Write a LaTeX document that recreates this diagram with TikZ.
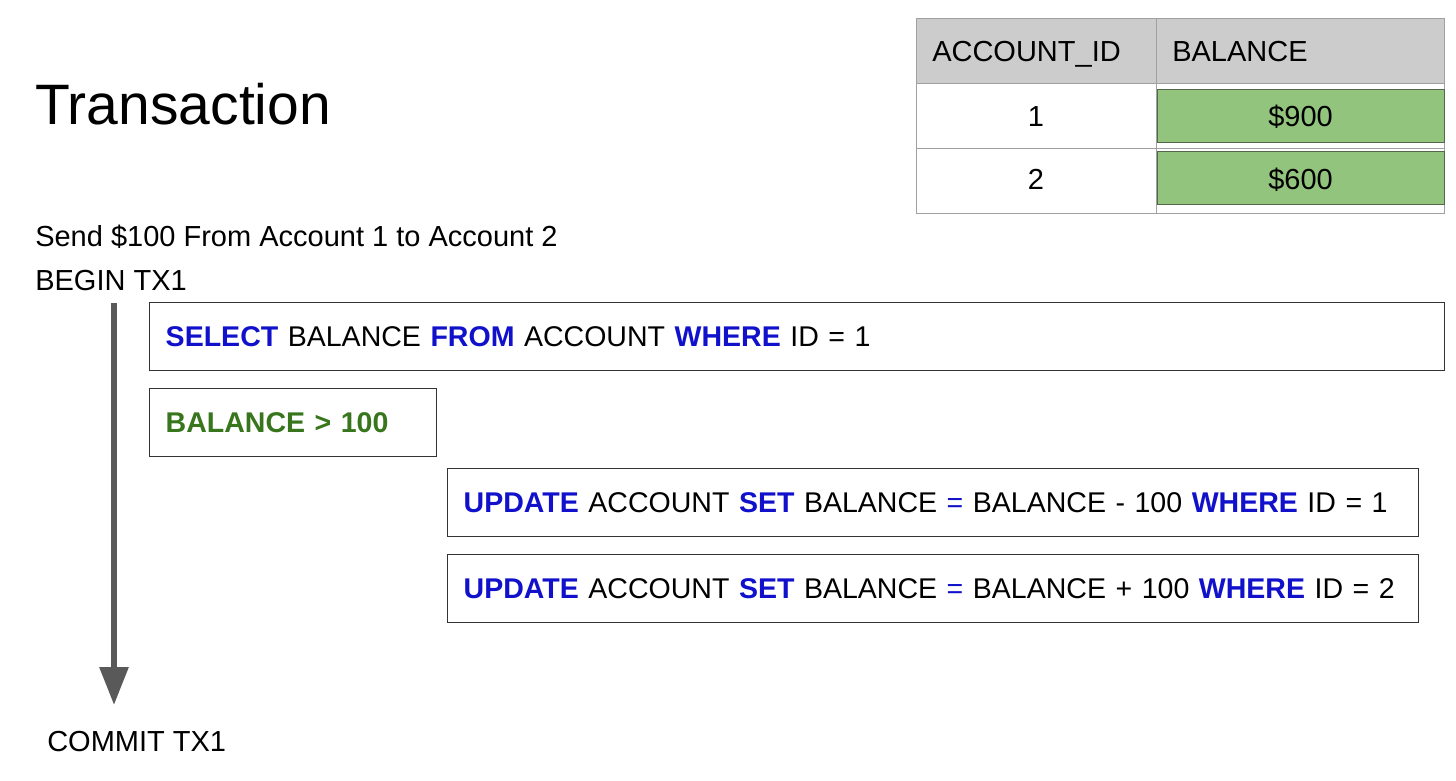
\documentclass[tikz,border=0pt]{standalone}
\usepackage{fontspec}
\setmainfont{Liberation Sans}
\usetikzlibrary{arrows.meta}

\definecolor{kwblue}{RGB}{17,17,204}
\definecolor{condgreen}{RGB}{56,118,29}
\definecolor{cellgreen}{RGB}{147,196,125}
\definecolor{celledge}{RGB}{84,104,78}
\definecolor{gridgray}{RGB}{160,160,160}
\definecolor{headgray}{RGB}{204,204,204}
\definecolor{flowgray}{RGB}{89,89,89}

\newcommand{\kw}[1]{\textcolor{kwblue}{\textbf{#1}}}

\begin{document}
\begin{tikzpicture}[x=0.75pt,y=0.75pt,yscale=-1,
  txt/.style={font=\fontsize{21.75}{26}\selectfont, inner sep=0pt},
  stmt/.style={font=\fontsize{21.4}{26}\selectfont, draw={rgb,255:red,51;green,51;blue,51}, line width=1.1pt, anchor=north west,
    minimum height=51pt, inner xsep=12pt, inner ysep=0pt, align=left},
  cell/.style={draw=gridgray, line width=0.9pt, anchor=north west, minimum height=48.5pt},
  money/.style={draw=celledge, fill=cellgreen, line width=1.1pt, anchor=north west,
    minimum width=215.25pt, minimum height=39.75pt},
  flow/.style={draw=flowgray, line width=4.5pt, -{Triangle[width=21pt,length=28.5pt]}}]
\useasboundingbox (0,0) rectangle (1456,781);

% Title
\node[font=\fontsize{42.75}{50}\selectfont, inner sep=0pt, anchor=base west] (title) at (35,124.5) {Transaction};

%% table %%
\node[cell, fill=headgray, minimum width=180pt] (hid) at (916,18) {};
\node[cell, fill=headgray, minimum width=216pt] (hbal) at (1156,18) {};
\node[cell, minimum width=180pt] (id1) at (916,83) {};
\node[cell, minimum width=216pt] (bal1) at (1156,83) {};
\node[cell, minimum width=180pt] (id2) at (916,148) {};
\node[cell, minimum width=216pt] (bal2) at (1156,148) {};
% green balances
\node[money] (green1) at (1157,89) {};
\node[money] (green2) at (1157,151) {};
% Text Node
\node[txt, anchor=base west] (hidtext) at (932,62) {ACCOUNT\_ID};
\node[txt, anchor=base west] (hbaltext) at (1172,62) {BALANCE};
\node[txt, anchor=base] (id1text) at (1036,127) {1};
\node[txt, anchor=base] (id2text) at (1036,190) {2};
\node[txt, anchor=base] (bal1text) at (1300.5,127) {\$900};
\node[txt, anchor=base] (bal2text) at (1300.5,190) {\$600};

% Text Node
\node[txt, anchor=base west] (task) at (35,246.5) {Send \$100 From Account 1 to Account 2};
\node[txt, anchor=base west] (begin) at (35,290.5) {BEGIN TX1};
\node[txt, anchor=base west] (commit) at (47,751) {COMMIT TX1};

%% statements %%
\node[stmt, text width=947.25pt] (select) at (149,302)
  {\mbox{\kw{SELECT} BALANCE \kw{FROM} ACCOUNT \kw{WHERE} ID = 1}};
\node[stmt, text width=191.25pt] (check) at (149,388)
  {\mbox{\textcolor{condgreen}{\textbf{BALANCE > 100}}}};
\node[stmt, text width=704.25pt] (debit) at (447,468)
  {\mbox{\kw{UPDATE} ACCOUNT \kw{SET} BALANCE \textcolor{kwblue}{=} BALANCE - 100 \kw{WHERE} ID = 1}};
\node[stmt, text width=704.25pt] (credit) at (447,554)
  {\mbox{\kw{UPDATE} ACCOUNT \kw{SET} BALANCE \textcolor{kwblue}{=} BALANCE + 100 \kw{WHERE} ID = 2}};

%Straight Lines: time flow
\coordinate (txtop) at (114,303);
\coordinate (txbot) at (114,705);
\draw[flow] (txtop) -- (txbot);

\end{tikzpicture}
\end{document}
